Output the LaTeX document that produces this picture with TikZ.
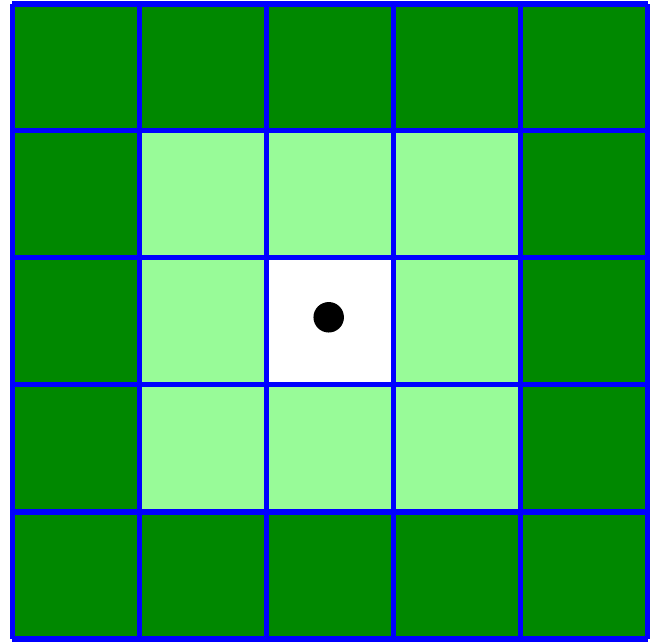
\documentclass[tikz,border=0pt]{standalone}
\definecolor{OuterGreen}{RGB}{0,136,0}
\definecolor{InnerGreen}{RGB}{152,251,152}
\definecolor{GridBlue}{RGB}{0,0,255}
\tikzset{
  outercell/.style={fill=OuterGreen},
  innercell/.style={fill=InnerGreen},
  centercell/.style={fill=white},
  gridline/.style={draw=GridBlue, line width=1.3pt},
  pin/.style={circle, fill=black, inner sep=0pt, minimum size=2.4mm}
}
\begin{document}
\begin{tikzpicture}
  \useasboundingbox (-0.098,-0.035) rectangle (5.051,5.028);
  \fill[outercell] (0,0) rectangle (5,5);
  \fill[innercell] (1,1) rectangle (4,4);
  \fill[centercell] (2,2) rectangle (3,3);
  \draw[gridline] (0,0) grid (5,5);
  \node[pin] (dot) at (2.49,2.53) {};
\end{tikzpicture}
\end{document}
